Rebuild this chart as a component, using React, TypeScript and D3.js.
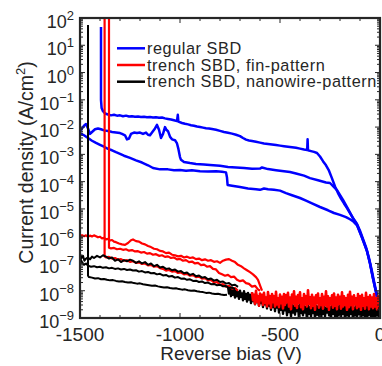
import React from 'react';
import * as d3 from 'd3';

// Current density given as log10(J) in A/cm^2, voltage in V
const blue1: number[][] = [
[-1395,1.67],[-1395,-1.0],[-1392,-1.3],[-1385,-1.42],[-1375,-1.5],[-1360,-1.54],[-1345,-1.57],[-1330,-1.55],[-1315,-1.58],[-1300,-1.57],[-1285,-1.6],[-1270,-1.58],[-1255,-1.61],[-1240,-1.6],[-1225,-1.62],[-1210,-1.61],[-1195,-1.63],[-1180,-1.62],[-1165,-1.64],[-1150,-1.63],[-1135,-1.65],[-1120,-1.64],[-1105,-1.66],[-1090,-1.65],[-1075,-1.68],[-1060,-1.7],[-1045,-1.72],[-1030,-1.75],[-1015,-1.78],[-1011,-1.55],[-1008,-1.8],[-990,-1.85],[-975,-1.88],[-960,-1.9],[-945,-1.93],[-930,-1.95],[-915,-1.98],[-900,-2.0],[-885,-2.02],[-870,-2.04],[-855,-2.05],[-840,-2.07],[-820,-2.1],[-800,-2.14],[-780,-2.18],[-760,-2.21],[-740,-2.24],[-720,-2.28],[-700,-2.33],[-685,-2.4],[-670,-2.46],[-655,-2.49],[-640,-2.51],[-620,-2.54],[-600,-2.57],[-580,-2.6],[-560,-2.62],[-540,-2.64],[-520,-2.66],[-500,-2.68],[-480,-2.7],[-460,-2.72],[-440,-2.74],[-420,-2.76],[-400,-2.79],[-380,-2.82],[-364,-2.84],[-362,-2.45],[-360,-2.85],[-345,-2.88],[-330,-2.91],[-315,-2.95],[-300,-3.08],[-285,-3.25],[-270,-3.4],[-255,-3.6],[-240,-3.88],[-225,-4.18],[-210,-4.42],[-195,-4.62],[-180,-4.8],[-165,-4.97],[-150,-5.15],[-135,-5.33],[-115,-5.55],[-100,-5.8],[-85,-6.1],[-70,-6.4],[-55,-6.8],[-40,-7.3],[-30,-7.65],[-20,-8.0],[-10,-8.4],[-4,-8.75],[0,-9.3]
];
const blue2: number[][] = [
[-1500,-2.14],[-1490,-2.05],[-1480,-1.95],[-1470,-1.89],[-1460,-2.05],[-1450,-2.25],[-1440,-2.18],[-1425,-2.08],[-1410,-2.05],[-1395,-2.08],[-1380,-2.12],[-1360,-2.14],[-1340,-2.18],[-1320,-2.2],[-1300,-2.22],[-1290,-2.25],[-1275,-2.3],[-1265,-2.45],[-1255,-2.42],[-1245,-2.25],[-1230,-2.2],[-1215,-2.22],[-1200,-2.2],[-1185,-2.25],[-1170,-2.2],[-1160,-2.28],[-1150,-2.3],[-1140,-2.2],[-1125,-2.05],[-1115,-1.92],[-1105,-2.1],[-1095,-2.4],[-1085,-2.25],[-1075,-2.0],[-1068,-2.1],[-1060,-2.15],[-1050,-2.35],[-1040,-2.45],[-1025,-2.48],[-1015,-2.6],[-1008,-2.8],[-1000,-3.1],[-995,-3.2],[-980,-3.28],[-950,-3.32],[-920,-3.35],[-880,-3.37],[-850,-3.39],[-800,-3.42],[-760,-3.46],[-720,-3.48],[-680,-3.5],[-640,-3.53],[-600,-3.52],[-590,-3.48],[-560,-3.54],[-520,-3.58],[-480,-3.62],[-450,-3.65],[-420,-3.7],[-380,-3.78],[-350,-3.87],[-310,-3.95],[-270,-4.03],[-250,-4.05],[-230,-4.2],[-215,-4.31],[-185,-4.67],[-160,-5.0],[-135,-5.35],[-115,-5.57],[-90,-6.05],[-65,-6.55],[-50,-7.0],[-35,-7.55],[-20,-8.05],[-10,-8.45],[-3,-8.85],[0,-9.3]
];
const blue3: number[][] = [
[-1500,-2.22],[-1480,-2.3],[-1460,-2.4],[-1440,-2.5],[-1420,-2.58],[-1400,-2.65],[-1380,-2.72],[-1360,-2.8],[-1340,-2.85],[-1320,-2.92],[-1300,-2.98],[-1280,-3.05],[-1250,-3.13],[-1220,-3.22],[-1190,-3.3],[-1160,-3.4],[-1135,-3.5],[-1100,-3.55],[-1060,-3.55],[-1030,-3.58],[-1000,-3.57],[-970,-3.6],[-940,-3.58],[-900,-3.62],[-860,-3.63],[-820,-3.62],[-790,-3.64],[-770,-3.66],[-765,-3.85],[-762,-4.12],[-740,-4.15],[-700,-4.2],[-660,-4.25],[-620,-4.28],[-600,-4.3],[-580,-4.25],[-560,-4.28],[-530,-4.3],[-500,-4.33],[-470,-4.42],[-440,-4.5],[-400,-4.6],[-370,-4.7],[-340,-4.8],[-300,-4.93],[-260,-5.05],[-230,-5.15],[-200,-5.22],[-170,-5.3],[-150,-5.38],[-135,-5.45],[-115,-5.6],[-90,-6.05],[-65,-6.55],[-50,-7.0],[-35,-7.55],[-20,-8.05],[-10,-8.45],[-3,-8.85],[0,-9.3]
];

const red1: number[][] = [
[-1500,-6.0],[-1490,-5.96],[-1480,-6.0],[-1470,-5.97],[-1460,-6.02],[-1450,-5.98],[-1440,-6.01],[-1430,-5.97],[-1420,-6.0],[-1410,-6.04],[-1400,-6.02],[-1390,-6.08],[-1380,-6.06],[-1370,-6.12],[-1360,-6.1],[-1350,-6.16],[-1340,-6.14],[-1330,-6.2],[-1320,-6.22],[-1305,-6.27],[-1290,-6.3],[-1275,-6.32],[-1260,-6.25],[-1245,-6.15],[-1235,-6.12],[-1220,-6.18],[-1205,-6.2],[-1190,-6.27],[-1175,-6.3],[-1160,-6.36],[-1145,-6.4],[-1130,-6.46],[-1115,-6.48],[-1100,-6.54],[-1085,-6.56],[-1070,-6.62],[-1055,-6.6],[-1040,-6.68],[-1025,-6.7],[-1010,-6.74],[-995,-6.72],[-980,-6.78],[-965,-6.75],[-950,-6.8],[-935,-6.78],[-920,-6.84],[-905,-6.82],[-890,-6.88],[-875,-6.85],[-860,-6.9],[-845,-6.88],[-830,-6.94],[-815,-6.92],[-800,-6.98],[-785,-6.9],[-770,-6.86],[-755,-6.84],[-740,-6.9],[-725,-6.95],[-710,-7.05],[-695,-7.1],[-680,-7.18],[-665,-7.25],[-650,-7.32],[-635,-7.4],[-620,-7.5],[-610,-7.6],[-600,-7.8],[-590,-8.0]
];
const red2: number[][] = [
[-1355,2.5],[-1355,-6.42],[-1345,-6.45],[-1330,-6.43],[-1315,-6.48],[-1300,-6.46],[-1285,-6.5],[-1270,-6.48],[-1255,-6.53],[-1240,-6.51],[-1225,-6.56],[-1210,-6.55],[-1195,-6.6],[-1180,-6.58],[-1165,-6.64],[-1150,-6.62],[-1135,-6.68],[-1120,-6.66],[-1105,-6.72],[-1090,-6.7],[-1075,-6.76],[-1060,-6.74],[-1045,-6.8],[-1030,-6.78],[-1015,-6.85],[-1000,-6.83],[-985,-6.9],[-970,-6.88],[-955,-6.95],[-940,-6.93],[-925,-7.0],[-910,-6.98],[-895,-7.06],[-880,-7.04],[-865,-7.12],[-850,-7.1],[-835,-7.2],[-820,-7.22],[-805,-7.35],[-790,-7.4],[-775,-7.45],[-760,-7.42],[-745,-7.5],[-730,-7.48],[-715,-7.6],[-700,-7.65],[-685,-7.62],[-670,-7.72],[-655,-7.75],[-640,-7.85],[-625,-7.82],[-610,-7.95],[-600,-8.0]
];
const red3: number[][] = [
[-1377,2.5],[-1377,-6.74],[-1370,-6.78],[-1355,-6.76],[-1340,-6.82],[-1325,-6.8],[-1310,-6.86],[-1295,-6.84],[-1280,-6.9],[-1265,-6.88],[-1250,-6.94],[-1235,-6.92],[-1220,-6.98],[-1205,-6.96],[-1190,-7.02],[-1175,-7.0],[-1160,-7.07],[-1145,-7.05],[-1130,-7.12],[-1115,-7.1],[-1100,-7.17],[-1085,-7.2],[-1070,-7.26],[-1055,-7.24],[-1040,-7.3],[-1025,-7.28],[-1010,-7.35],[-995,-7.33],[-980,-7.4],[-965,-7.38],[-950,-7.45],[-935,-7.43],[-920,-7.5],[-905,-7.48],[-890,-7.56],[-875,-7.54],[-860,-7.62],[-845,-7.6],[-830,-7.7],[-815,-7.68],[-800,-7.78],[-785,-7.76],[-770,-7.85],[-755,-7.82],[-740,-7.92],[-725,-7.9],[-710,-8.0]
];
// noisy red tail, 5 V steps from -640 V to 0 V
const redTailStart = -640;
const redTail: number[] = [
-8.05,-8.35,-8.15,-8.48,-8.0,-8.4,-8.2,-8.55,-8.1,-8.35,
-8.15,-8.52,-8.08,-8.45,-8.25,-8.58,-8.05,-8.46,-8.2,-8.62,
-8.12,-8.42,-8.2,-8.58,-8.04,-8.5,-8.28,-8.6,-8.14,-8.46,
-8.22,-8.65,-8.12,-8.52,-8.16,-8.42,-8.08,-8.58,-8.25,-8.68,
-8.14,-8.46,-8.02,-8.55,-8.22,-8.63,-8.16,-8.44,-8.06,-8.6,
-8.28,-8.68,-8.12,-8.5,-8.2,-8.58,-7.98,-8.48,-8.24,-8.64,
-8.15,-8.55,-8.25,-8.7,-8.17,-8.46,-8.1,-8.62,-8.28,-8.52,
-8.12,-8.66,-8.22,-8.52,-8.02,-8.58,-8.2,-8.7,-8.28,-8.5,
-8.17,-8.62,-8.1,-8.55,-8.25,-8.68,-8.15,-8.48,-8.22,-8.66,
-8.06,-8.58,-8.2,-8.52,-8.28,-8.7,-8.15,-8.6,-8.04,-8.52,
-8.22,-8.68,-8.17,-8.5,-8.28,-8.64,-8.12,-8.58,-8.2,-8.7,
-8.15,-8.55,-8.28,-8.66,-8.08,-8.52,-8.24,-8.68,-8.17,-8.58,
-8.25,-8.64,-8.12,-8.58,-8.28,-8.68,-8.2,-8.55,-8.32
];

const black1: number[][] = [
[-1460,1.74],[-1460,-7.45],[-1455,-7.5],[-1440,-7.52],[-1425,-7.55],[-1410,-7.54],[-1395,-7.58],[-1380,-7.57],[-1365,-7.6],[-1350,-7.62],[-1335,-7.61],[-1320,-7.64],[-1305,-7.66],[-1290,-7.65],[-1275,-7.68],[-1260,-7.7],[-1245,-7.69],[-1230,-7.72],[-1215,-7.74],[-1200,-7.73],[-1185,-7.76],[-1170,-7.78],[-1155,-7.8],[-1140,-7.82],[-1125,-7.81],[-1110,-7.84],[-1095,-7.86],[-1080,-7.88],[-1065,-7.87],[-1050,-7.9],[-1035,-7.92],[-1020,-7.91],[-1005,-7.94],[-990,-7.96],[-975,-7.95],[-960,-7.98],[-945,-8.0],[-930,-7.99],[-915,-8.02],[-900,-8.04],[-885,-8.05],[-870,-8.08],[-855,-8.07],[-840,-8.1],[-825,-8.12],[-810,-8.11],[-795,-8.14],[-780,-8.16],[-765,-8.15]
];
const black2: number[][] = [
[-1500,-6.65],[-1492,-6.8],[-1485,-6.72],[-1478,-6.9],[-1470,-6.82],[-1460,-6.78],[-1450,-6.85],[-1440,-6.75],[-1430,-6.8],[-1415,-6.72],[-1400,-6.78],[-1385,-6.7],[-1370,-6.75],[-1355,-6.82],[-1340,-6.78],[-1325,-6.9],[-1310,-6.85],[-1295,-6.95],[-1280,-6.88],[-1265,-6.92],[-1250,-6.86],[-1235,-6.9],[-1220,-6.98],[-1205,-6.92],[-1190,-7.0],[-1175,-6.95],[-1160,-7.05],[-1145,-7.0],[-1130,-7.1],[-1115,-7.05],[-1100,-7.15],[-1085,-7.12],[-1070,-7.2],[-1055,-7.18],[-1040,-7.25],[-1025,-7.22],[-1010,-7.3],[-995,-7.28],[-980,-7.36],[-965,-7.33],[-950,-7.42],[-935,-7.38],[-920,-7.47],[-905,-7.44],[-890,-7.52],[-875,-7.5],[-860,-7.58],[-845,-7.55],[-830,-7.63],[-815,-7.6],[-800,-7.68],[-785,-7.66],[-770,-7.74],[-755,-7.72],[-740,-7.8],[-725,-7.78],[-710,-7.86]
];
const black3: number[][] = [
[-1500,-6.8],[-1490,-6.95],[-1480,-7.05],[-1470,-7.0],[-1460,-7.08],[-1445,-7.12],[-1430,-7.1],[-1415,-7.14],[-1400,-7.12],[-1385,-7.16],[-1370,-7.14],[-1355,-7.18],[-1340,-7.16],[-1325,-7.2],[-1310,-7.18],[-1295,-7.22],[-1280,-7.2],[-1265,-7.24],[-1250,-7.22],[-1235,-7.26],[-1220,-7.25],[-1205,-7.3],[-1190,-7.28],[-1175,-7.33],[-1160,-7.31],[-1145,-7.36],[-1130,-7.35],[-1115,-7.4],[-1100,-7.38],[-1085,-7.44],[-1070,-7.42],[-1055,-7.48],[-1040,-7.46],[-1025,-7.52],[-1010,-7.5],[-995,-7.56],[-980,-7.55],[-965,-7.6],[-950,-7.58],[-935,-7.64],[-920,-7.63],[-905,-7.68],[-890,-7.66],[-875,-7.72],[-860,-7.7],[-845,-7.76],[-830,-7.75],[-815,-7.8],[-800,-7.78],[-785,-7.84],[-770,-7.83],[-755,-7.9],[-740,-7.88],[-725,-7.95]
];
// noisy black tail, 5 V steps from -760 V to 0 V
const blackTailStart = -760;
const blackTail: number[] = [
-7.85,-8.1,-7.95,-8.2,-7.9,-8.15,-8.0,-8.25,-7.95,-8.2,
-8.05,-8.3,-8.0,-8.22,-8.1,-8.35,-8.02,-8.3,-8.12,-8.4,
-8.08,-8.32,-8.15,-8.45,-8.1,-8.38,-8.2,-8.5,-8.12,-8.42,
-8.22,-8.55,-8.18,-8.45,-8.28,-8.6,-8.2,-8.5,-8.3,-8.65,
-8.25,-8.55,-8.35,-8.7,-8.3,-8.6,-8.4,-8.75,-8.32,-8.62,
-8.42,-8.8,-8.38,-8.7,-8.45,-8.85,-8.4,-8.72,-8.5,-8.9,
-8.45,-8.78,-8.52,-8.95,-8.48,-8.8,-8.55,-8.88,-8.42,-8.75,
-8.55,-9.05,-8.5,-8.82,-8.58,-8.9,-8.48,-8.8,-8.6,-9.1,
-8.52,-8.85,-8.6,-8.95,-8.5,-8.82,-8.62,-9.0,-8.55,-8.88,
-8.58,-8.92,-8.5,-9.15,-8.6,-8.85,-8.55,-8.95,-8.62,-8.8,
-8.5,-8.9,-8.6,-9.05,-8.55,-8.85,-8.62,-8.95,-8.5,-9.2,
-8.58,-8.88,-8.52,-8.98,-8.62,-8.85,-8.55,-9.1,-8.6,-8.9,
-8.52,-8.95,-8.6,-8.85,-8.55,-9.15,-8.62,-8.9,-8.5,-8.98,
-8.58,-8.86,-8.6,-9.05,-8.52,-8.9,-8.62,-8.95,-8.55,-9.2,
-8.6,-8.88,-8.52,-9.0,-8.62,-8.92,-8.55,-9.1,-8.6,-8.9,
-8.55,-9.05,-8.62
];

const xTicks = [-1500, -1000, -500, 0];
const yDecades = [-9, -8, -7, -6, -5, -4, -3, -2, -1, 0, 1, 2];
const legendLabels = ['regular SBD', 'trench SBD, fin-pattern', 'trench SBD, nanowire-pattern'];
const colors = ['#0000ff', '#ff0000', '#000000'];

const FONT = "'Liberation Sans', Arial, Helvetica, sans-serif";
const TXT = '#262626';

export default function App() {
  const L = 80, R = 380, T = 18, B = 318;
  const x = d3.scaleLinear().domain([-1500, 0]).range([L, R]);
  const y = d3.scaleLog().domain([1e-9, 1e2]).range([B, T]);
  const line = d3.line<number[]>().x(d => x(d[0])).y(d => y(Math.pow(10, d[1])));

  const redTailPts = redTail.map((v, i) => [redTailStart + i * 5, v]);
  const blackTailPts = blackTail.map((v, i) => [blackTailStart + i * 5, v]);

  const series: { d: number[][]; c: string; w: number }[] = [
    { d: blue1, c: colors[0], w: 2.5 },
    { d: blue2, c: colors[0], w: 2.5 },
    { d: blue3, c: colors[0], w: 2.5 },
    { d: blackTailPts, c: colors[2], w: 2.4 },
    { d: red1, c: colors[1], w: 2.2 },
    { d: red2, c: colors[1], w: 2.2 },
    { d: red3, c: colors[1], w: 2.2 },
    { d: redTailPts, c: colors[1], w: 2.6 },
    { d: black1, c: colors[2], w: 2 },
    { d: black2, c: colors[2], w: 2 },
    { d: black3, c: colors[2], w: 2 },
  ];

  const xMinor = d3.range(-1500, 1, 100);
  const yMinor: number[] = [];
  yDecades.slice(0, -1).forEach(dd => {
    for (let k = 2; k <= 9; k++) yMinor.push(k * Math.pow(10, dd));
  });

  const sup = (e: number) => (e < 0 ? '\u2212' + Math.abs(e) : String(e));

  return (
    <svg width={382} height={366} style={{ position: 'absolute', left: 0, top: 0 }} fontFamily={FONT}>
      <rect x={0} y={0} width={382} height={366} fill="#fff" />
      <defs>
        <clipPath id="plotclip">
          <rect x={L} y={T} width={R - L} height={B - T} />
        </clipPath>
      </defs>
      <g clipPath="url(#plotclip)">
        {series.map((s, i) => (
          <path key={i} d={line(s.d) || ''} fill="none" stroke={s.c} strokeWidth={s.w} strokeLinejoin="round" />
        ))}
      </g>
      <g stroke={TXT} strokeWidth={1}>
        {xMinor.map(v => (
          <g key={'xt' + v}>
            <line x1={x(v)} x2={x(v)} y1={B} y2={B - (v % 500 === 0 ? 5 : 3)} />
            <line x1={x(v)} x2={x(v)} y1={T} y2={T + (v % 500 === 0 ? 5 : 3)} />
          </g>
        ))}
        {yDecades.map(e => (
          <g key={'yt' + e}>
            <line x1={L} x2={L + 5} y1={y(Math.pow(10, e))} y2={y(Math.pow(10, e))} />
            <line x1={R} x2={R - 5} y1={y(Math.pow(10, e))} y2={y(Math.pow(10, e))} />
          </g>
        ))}
        {yMinor.map((v, i) => (
          <g key={'ym' + i}>
            <line x1={L} x2={L + 3} y1={y(v)} y2={y(v)} />
            <line x1={R} x2={R - 3} y1={y(v)} y2={y(v)} />
          </g>
        ))}
      </g>
      <rect x={L} y={T} width={R - L} height={B - T} fill="none" stroke={TXT} strokeWidth={2.2} />
      {xTicks.map(v => (
        <text key={'xl' + v} x={x(v)} y={341} textAnchor="middle" fontSize={19} fill={TXT}>{v < 0 ? '-' + Math.abs(v) : String(v)}</text>
      ))}
      {yDecades.map(e => (
        <text key={'yl' + e} x={74} y={y(Math.pow(10, e)) + 10} textAnchor="end" fontSize={18} fill={TXT}>
          <tspan>10</tspan>
          <tspan dy={-8} fontSize={13}>{sup(e)}</tspan>
        </text>
      ))}
      <text x={231} y={360} textAnchor="middle" fontSize={19} fill={TXT}>Reverse bias (V)</text>
      <text transform="translate(33,162.5) rotate(-90)" textAnchor="middle" fontSize={19.5} fill={TXT}>
        <tspan>Current density (A/cm</tspan>
        <tspan dy={-8} fontSize={13}>2</tspan>
        <tspan dy={8}>)</tspan>
      </text>
      {legendLabels.map((lab, i) => (
        <g key={'lg' + i}>
          <line x1={117} x2={145} y1={48.3 + i * 16.7} y2={48.3 + i * 16.7} stroke={colors[i]} strokeWidth={2.5} />
          <text x={147} y={48.3 + i * 16.7 + 5.5} fontSize={16.3} letterSpacing={0.55} fill={TXT}>{lab}</text>
        </g>
      ))}
    </svg>
  );
}
